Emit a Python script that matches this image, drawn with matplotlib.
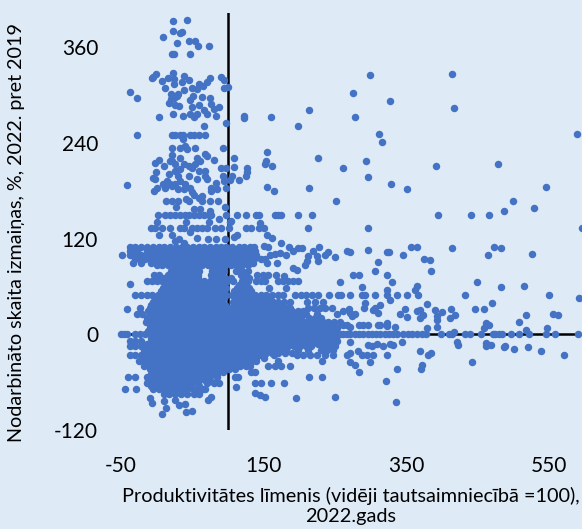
#productivity level vs change in employment, scatter with axes crossing at (100,0)
import matplotlib
matplotlib.use('Agg')
import matplotlib.pyplot as plt

plt.rcParams['font.family']=['Lato','DejaVu Sans']
plt.rcParams['axes.unicode_minus']=False

x_ticks=[-50,150,350,550]
y_ticks=[-120,0,120,240,360]

#sparse points above the main cloud
top_x=[23,43,23,33,35,9,28,46,54,58,73,21,24,47,-1,-7,-5,23,39,75,90,95,8,16,24,35,45,70,59,65,12,38,49,56,95,100,24,-37,-27,20,28,24,20,30,18,26,32,47,51,64,75,77,81,88,50,59,66,71,84,23,37,3,47,53,56,123,123,161,214,199,97,66,
-27,21,26,33,37,47,52,59,68,37,21,33,40,42,54,93,155,68,70,108,4,-2,21,21,33,56,61,80,153,152,227,162,
11,26,19,38,45,54,49,33,26,17,30,59,68,68,70,91,97,109,127,127,125,-1,-5,-2,45,56,93,106,103,115,-42,
9,14,19,26,33,40,0,-3,12,21,30,38,47,49,94,84,77,85,76,97,155,165,214,53,63,60,41,46,13,21,30,63,75,86,252,27,96,52,61,75,
2,12,19,26,33,40,45,52,59,66,73,77,97,113,125,140,144,166,171,174,198,218,87,104,1,41,74,103,145]
top_y=[393,394,380,378,379,373,366,368,368,362,362,351,351,351,327,321,323,328,324,322,323,319,318,321,320,317,319,316,314,311,309,307,309,308,309,310,314,304,297,301,299,296,295,301,290,288,286,294,299,298,296,289,283,285,285,287,281,276,274,276,274,272,276,272,276,274,271,273,281,261,265,261,
250,250,250,250,250,250,250,250,250,245,234,234,236,233,234,234,229,226,224,221,219,215,225,218,221,221,218,219,218,214,221,211,
211,214,217,214,211,213,209,207,205,201,198,205,205,198,195,209,208,210,209,203,198,203,196,195,198,195,199,198,193,193,187,
189,192,188,188,192,188,184,180,184,186,182,182,184,179,192,190,184,182,180,183,185,180,183,175,173,171,170,167,167,167,167,167,167,167,167,160,160,157,157,155,
150,150,150,150,150,150,150,150,150,150,150,150,150,150,150,150,150,150,150,150,150,150,145,142,141,141,141,141,140]

#points just above the 100 band
upper_x=[-8,-2,8,19,33,38,49,56,63,70,82,91,101,126,133,143,150,213,4,22,47,56,72,83,96,108,113,155,162,31,26,38,175,
150,157,159,166,173,181,186,191,198,204,213,211,208,220,225,228,227,236,241,250,155,169,191,197,179,-37,-42]
upper_y=[133,133,133,133,133,133,133,133,133,133,133,133,133,133,133,133,133,133,125,125,128,121,120,120,120,122,125,125,121,119,117,115,114,
111,109,100,101,102,100,109,104,108,108,98,92,87,104,98,109,92,100,103,97,90,90,83,81,73,63,32]

#dense cloud, one list of x per row of y
rows_y=[110,104,100,95,90,87,84,80,75,71,67,62,58,54,49,45,41,37,33,29,25,20,16,12,8,4,0,-4,-9,-12,-15,-20,-23,-26,-30,-34,-37,-40,-43,-47,-50,-53,-57,-61,-65,-69,-75]
rows_x=[
[-37,-31,-22,-13,-5,3,11,19,27,35,43,51,59,67,75,83,90,98,106,115,123,131,137],
[-38,-33,-27,-14,-6,2,10,18,26,34,42,50,58,66,74,82,90,98,106,114,122,130,138],
[-49,-37,-30,-22,-13,-5,3,12,20,28,36,44,52,60,68,76,84,92,100,108,116,124,132,140],
[-31,-24,-16,-8,0,8,16,24,32,40,48,56,64,72,80,88,96,104,112,120,128,136,147,152],
[-33,-22,-8,-1,7,15,23,31,39,47,55,63,71,79,87,95,103,111,119,127,135],
[0,8,16,24,32,40,48,56,64,72,80,88,96,104,112,120,128],
[27,34,42,50,57,78,86,94,115],
[20,28,36,44,52,60,78,86,94,112,120,128],
[-4,3,16,18,26,34,42,50,58,76,84,92,118,126,141,149,157,167],
[10,18,26,34,42,50,58,80,88,96,104,122,130],
[-14,-7,0,8,16,24,32,40,48,56,67,75,83,91,99,107,120,128,139,147,152,170,177,184,191,198],
[12,20,28,36,44,52,60,70,78,86,94,116,124],
[9,17,25,33,41,49,56,66,74,82,90,97,113,121,129,158,181],
[6,14,22,30,38,46,54,62,70,78,86,94,108,116,124,132],
[-30,-22,-14,-6,2,10,18,26,34,42,50,58,66,74,82,90,98,106,114,122,130,138,146,154,162,170,177,194,202,210,218,226,242,255],
[-2,6,14,22,30,38,46,54,62,70,78,86,94,110,118,126,134,142,150,158],
[-5,3,11,19,27,35,43,51,59,67,75,83,91,107,115,123,131,139,147,155,163,171,179,187,211,222,233],
[-8,0,8,16,24,32,40,48,56,64,72,80,88,96,112,120,128,136,144,152,160,170,178],
[-24,-9,-1,7,15,23,31,39,47,55,63,71,79,87,95,103,111,119,127,135,143,151,159,167,175,183,187,213,221,229,236,246],
[-12,-4,4,12,20,28,36,44,52,60,68,76,84,92,100,108,116,124,132,140,148,156,164,172,180,190,198,206],
[-27,-20,-10,-2,6,14,22,30,38,46,54,62,70,78,86,94,102,110,118,126,134,142,150,158,166,174,182,190,198,206,210,225,253],
[-14,-6,2,10,18,26,34,42,50,58,66,74,82,90,98,106,114,122,130,138,146,154,162,170,178,186,194,202,214,222,230],
[-15,-7,1,9,17,25,33,41,49,57,65,73,81,89,97,105,113,121,129,137,145,153,161,169,177,185,193,201,209,217,226,233,241,249,257],
[-10,-2,6,14,22,30,38,46,54,62,70,78,86,94,102,110,118,126,134,142,150,158,166,174,182,190,198,206,214,222,230,240,248],
[-9,-1,5,13,21,29,37,45,53,61,69,77,85,93,101,109,117,125,133,141,149,157,165,173,181,189,197,205,213,221,229,237,245,253],
[-12,-4,4,12,20,28,36,44,52,60,68,76,84,92,100,108,116,124,132,140,148,156,164,172,180,188,196,204,212,220,228,236,244,250],
[-50,-46,-42,-30,-24,-16,-8,0,8,16,24,32,40,48,56,64,72,80,88,96,104,112,120,128,136,144,152,160,168,176,184,192,200,208,216,224,232,240,248,257,262,267,272,278,284,290,296,302,308,314,320,326,332,338,346,353,358,365,372,378,399,411,414,433,440,455,472,475,480,485,498,508,523,546,559,592],
[-8,0,8,16,24,32,40,48,56,64,72,80,88,96,104,112,120,128,136,144,152,160,168,176,184,192,200,208,216,224,232,240,252],
[-38,-30,-22,-8,0,5,13,21,29,37,45,53,61,69,77,85,93,101,109,117,125,133,141,149,157,165,173,181,189,197,205,213,221,229,237,245,253],
[-14,-6,2,10,18,26,34,42,50,58,66,74,82,90,98,106,114,122,130,138,146,154,162,170,178,186,194,202,210,218,226,240],
[-38,-30,-22,-15,-7,1,9,17,25,33,41,49,57,65,73,81,89,97,105,113,121,129,137,145,153,161,169,177,185,193,201,209,217,232,241,250],
[-18,-10,-2,5,13,21,29,37,45,53,61,69,77,85,93,101,109,117,125,133,141,149,157,165,173,181,198,212,230,239,248],
[-14,-6,2,10,18,26,34,42,50,58,66,74,82,90,98,106,114,122,130,138,146,154,162,170,180,190],
[-37,-30,-22,-17,-9,-1,7,15,23,31,39,47,55,63,71,79,87,95,103,111,119,127,135,143,151,165,197,205,215,225,237,248],
[-20,-12,-4,4,12,20,28,36,44,52,60,68,76,84,92,100,108,116,124,132,140,150],
[-25,-18,-10,-2,6,14,22,30,38,46,54,62,70,78,86,94,102,110,118,126,134,140,171,232],
[-14,-6,2,10,18,26,34,42,50,58,66,74,82,90,98,106,114,122,128],
[-18,-10,-2,5,13,21,29,37,45,53,61,69,77,85,93,101,109,117,125,131,157,166,175,187],
[-10,-2,6,14,22,30,38,46,54,62,70,78,86,94,102,110],
[-5,3,11,19,27,35,43,51,59,67,75,83,93,132,138],
[-8,0,8,16,24,32,40,48,56,64,72,80,85],
[-40,-30,-14,-6,2,10,18,26,34,42,50,58,66,74,85,110,114,214,232],
[-12,-4,4,12,20,28,36,44,52,60,68,75],
[-14,-6,2,10,18,26,34,42,50,58,70,80,88,138,146,160,179],
[-8,0,8,16,24,32,40,48,60],
[-44,-29,-5,3,11,19,27,35,43,51,56,65,68],
[10,18,26,34,42,52,60],
]

#stragglers under the cloud and the thin right hand tail
low_x=[-10,-7,10,13,8,26,31,40,41,50,72,76,111,138,145,152,195,250,
299,415,275,327,418,278,312,317,590,294,261,392,479,297,329,352,546,500,530,487,395,441,466,597,296,267,271,297,324,326,357,365,346,414,474,484,465,527,375,384,311,306,385,275,284,323,330,258,449,366,363,288,324,483,515,
259,271,288,292,307,324,338,352,367,433,550,328,593,379,470,314,292,291,262,270,304,306,311,348,342,352,365,370,374,369,391,401,394,394,413,412,419,447,459,518,556,563,509,274,278,271,
262,267,272,284,289,297,310,314,324,324,335,394,379,462,459,466,518,548,418,
271,309,318,328,332,344,297,302,422,423,462,462,469,487,489,502,521,540,572,
267,271,283,288,295,303,324,370,381,385,272,279,284,300,337,372,371,443,322,336]
low_y=[-80,-86,-84,-92,-100,-82,-89,-88,-97,-96,-82,-79,-66,-73,-76,-79,-80,-79,
325,326,303,293,284,272,251,241,251,218,209,211,214,197,189,182,185,167,158,155,150,150,150,133,133,104,103,106,103,103,109,109,99,108,109,108,99,101,95,93,91,79,79,74,74,74,66,66,66,61,55,59,56,59,61,
49,49,49,49,49,49,49,49,49,49,49,43,45,38,39,37,39,33,29,32,31,33,27,32,25,22,29,30,24,20,30,28,23,18,32,21,24,32,32,24,26,24,16,23,25,27,
12,12,9,12,12,12,12,12,14,11,9,9,8,14,8,12,6,8,3,
-10,-12,-15,-12,-14,-10,-13,-15,-10,-14,-11,-15,-14,-16,-15,-19,-16,-21,-26,
-26,-24,-21,-26,-26,-26,-26,-21,-26,-24,-35,-39,-47,-35,-43,-39,-44,-35,-59,-85]

fig=plt.figure(figsize=(5.82,5.29),dpi=100,facecolor='#DEEAF6')
ax=fig.add_axes([121/582,1-430/529,461/582,417/529],facecolor='#DEEAF6')

ax.axhline(0,color='black',lw=1.8,zorder=1)
ax.axvline(100,color='black',lw=1.8,zorder=1)

dot=dict(s=29,color='#4472C4',linewidths=0,zorder=2,clip_on=False)
ax.scatter(top_x,top_y,**dot)
ax.scatter(upper_x,upper_y,**dot)
for y,xs in zip(rows_y,rows_x):
    ax.scatter(xs,[y]*len(xs),**dot)
ax.scatter(low_x,low_y,**dot)

ax.set_xlim(-50,597)
ax.set_ylim(-120,403)
ax.set_xticks(x_ticks)
ax.set_yticks(y_ticks)
ax.tick_params(length=0,labelsize=15,colors='black')
ax.tick_params(axis='x',pad=19)
ax.tick_params(axis='y',pad=16.5)
for side in ax.spines:
    ax.spines[side].set_visible(False)

fig.text(351/582,1-506/529,'Produktivitātes līmenis (vidēji tautsaimniecībā =100),\n2022.gads',ha='center',va='center',fontsize=14.3,linespacing=1.15)
fig.text(17/582,1-232/529,'Nodarbināto skaita izmaiņas, %, 2022. pret 2019',rotation=90,ha='center',va='center',fontsize=14.2)

fig.savefig('out.png',dpi=100,facecolor=fig.get_facecolor())
